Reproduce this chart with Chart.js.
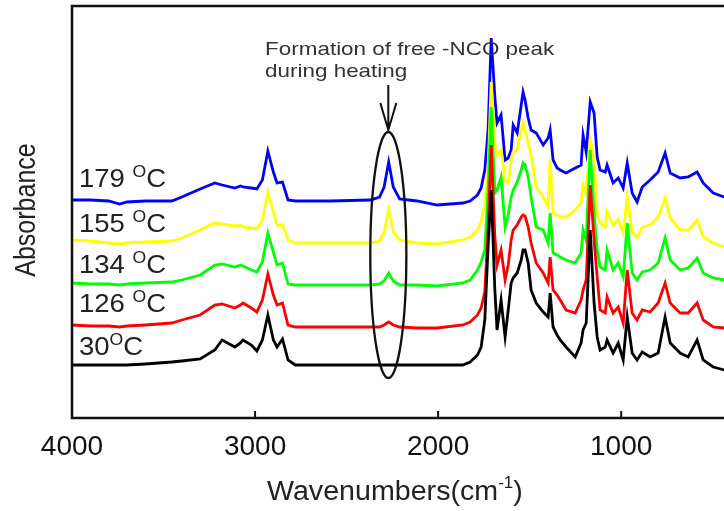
<!DOCTYPE html>
<html>
<head>
<meta charset="utf-8">
<script src="https://cdn.jsdelivr.net/npm/chart.js@4.4.1/dist/chart.umd.min.js"></script>
<style>
  html, body { margin: 0; padding: 0; background: #fff; overflow: hidden; }
  #wrap { width: 724px; height: 511px; overflow: hidden; }
  canvas { display: block; }
</style>
</head>
<body>
<div id="wrap"><canvas id="ftir" width="760" height="511"></canvas></div>
<script>
// wavenumbers (cm-1)
const wavenumbers = [
  4000, 3900, 3800, 3740, 3700, 3600, 3455, 3400, 3300, 3220,
  3180, 3110, 3080, 3066, 3020, 2990, 2960, 2930, 2900, 2880,
  2850, 2820, 2780, 2590, 2370, 2320, 2295, 2270, 2245, 2210,
  2115, 2005,
  1865, 1825, 1785, 1765, 1745, 1727, 1710, 1690, 1678, 1656,
  1634, 1617, 1601, 1590, 1568, 1546, 1536, 1525, 1508, 1492,
  1464, 1426, 1399, 1388, 1372, 1350, 1333, 1301, 1251, 1219,
  1208, 1191, 1169, 1148, 1131, 1115, 1087, 1077, 1044, 1016,
  989, 967, 940, 913, 885, 842, 798, 760, 732, 678,
  634, 585, 552, 497, 437, 400
];

// absorbance (offset traces, arbitrary units)
const abs30 = [
  0.53, 0.53, 0.53, 0.53, 0.53, 0.54, 0.56, 0.57, 0.59, 0.68,
  0.78, 0.71, 0.75, 0.78, 0.73, 0.67, 0.78, 1.03, 0.78, 0.71,
  0.79, 0.58, 0.53, 0.53, 0.53, 0.53, 0.53, 0.53, 0.53, 0.53,
  0.53, 0.53,
  0.53, 0.56, 0.63, 0.71, 0.98, 1.71, 2.28, 1.28, 0.88, 1.18,
  0.81, 1.08, 1.35, 1.40, 1.45, 1.58, 1.68, 1.68, 1.55, 1.28,
  1.15, 1.06, 1.01, 1.25, 0.91, 0.83, 0.78, 0.71, 0.61, 0.75,
  0.88, 0.95, 1.88, 1.15, 0.81, 0.68, 0.71, 0.78, 0.65, 0.75,
  0.58, 1.01, 0.65, 0.58, 0.66, 0.61, 0.65, 1.01, 0.75, 0.65,
  0.61, 0.78, 0.58, 0.51, 0.48, 0.47
];
const abs126 = [
  0.93, 0.92, 0.92, 0.91, 0.92, 0.93, 0.95, 0.98, 1.03, 1.13,
  1.14, 1.10, 1.13, 1.15, 1.10, 1.06, 1.18, 1.44, 1.23, 1.13,
  1.15, 0.93, 0.91, 0.91, 0.91, 0.91, 0.93, 0.96, 0.93, 0.91,
  0.90, 0.90,
  0.93, 0.96, 1.03, 1.10, 1.26, 1.88, 2.73, 1.81, 1.53, 1.68,
  1.38, 1.53, 1.78, 1.88, 1.93, 2.01, 2.03, 2.02, 1.91, 1.75,
  1.55, 1.45, 1.35, 1.61, 1.28, 1.23, 1.18, 1.08, 1.05, 1.18,
  1.28, 1.38, 2.33, 1.78, 1.41, 1.08, 1.05, 1.21, 1.05, 1.11,
  0.95, 1.48, 1.05, 0.98, 1.08, 1.06, 1.15, 1.35, 1.15, 1.05,
  1.05, 1.15, 0.98, 0.91, 0.90, 0.89
];
const abs134 = [
  1.35, 1.34, 1.34, 1.33, 1.34, 1.35, 1.36, 1.38, 1.43, 1.53,
  1.54, 1.51, 1.53, 1.52, 1.48, 1.46, 1.56, 1.85, 1.66, 1.53,
  1.55, 1.34, 1.33, 1.33, 1.33, 1.34, 1.37, 1.45, 1.37, 1.33,
  1.33, 1.32,
  1.35, 1.38, 1.48, 1.56, 1.68, 2.28, 3.11, 2.25, 2.28, 2.41,
  1.91, 2.03, 2.21, 2.28, 2.36, 2.48, 2.55, 2.53, 2.41, 2.21,
  1.91, 1.88, 1.75, 2.05, 1.65, 1.63, 1.61, 1.58, 1.55, 1.65,
  1.88, 1.78, 2.68, 2.05, 1.68, 1.51, 1.48, 1.68, 1.48, 1.55,
  1.41, 1.95, 1.45, 1.38, 1.46, 1.48, 1.55, 1.80, 1.58, 1.48,
  1.50, 1.60, 1.45, 1.40, 1.38, 1.37
];
const abs155 = [
  1.78, 1.77, 1.75, 1.74, 1.75, 1.76, 1.77, 1.80, 1.88, 1.95,
  1.94, 1.92, 1.93, 1.91, 1.90, 1.89, 1.98, 2.26, 2.06, 1.93,
  1.93, 1.78, 1.75, 1.75, 1.75, 1.77, 1.86, 2.08, 1.86, 1.78,
  1.75, 1.74,
  1.78, 1.81, 1.88, 1.96, 2.13, 2.48, 3.36, 2.75, 2.63, 2.68,
  2.38, 2.35, 2.58, 2.66, 2.68, 2.88, 2.95, 2.88, 2.75, 2.63,
  2.31, 2.21, 2.11, 2.58, 2.05, 2.03, 2.01, 2.01, 2.08, 2.15,
  2.33, 2.25, 2.78, 2.58, 2.05, 1.95, 1.91, 2.06, 1.93, 1.98,
  1.85, 2.21, 1.86, 1.80, 1.91, 1.93, 2.01, 2.20, 2.00, 1.88,
  1.88, 1.98, 1.81, 1.75, 1.71, 1.70
];
const abs179 = [
  2.18, 2.18, 2.17, 2.14, 2.16, 2.17, 2.17, 2.21, 2.29, 2.35,
  2.33, 2.30, 2.32, 2.31, 2.30, 2.29, 2.38, 2.67, 2.46, 2.35,
  2.36, 2.18, 2.17, 2.17, 2.18, 2.21, 2.31, 2.56, 2.31, 2.19,
  2.17, 2.13,
  2.15, 2.17, 2.23, 2.30, 2.48, 2.88, 3.80, 3.21, 2.95, 3.03,
  2.58, 2.60, 2.68, 2.93, 2.85, 3.13, 3.26, 3.18, 3.00, 2.88,
  2.85, 2.73, 2.80, 2.88, 2.58, 2.50, 2.48, 2.45, 2.50, 2.53,
  2.83, 2.66, 3.16, 3.05, 2.61, 2.48, 2.46, 2.53, 2.35, 2.40,
  2.30, 2.55, 2.25, 2.16, 2.31, 2.38, 2.46, 2.65, 2.45, 2.40,
  2.41, 2.46, 2.35, 2.25, 2.21, 2.19
];

const temperatures = ["30", "126 ", "134 ", "155 ", "179 "];
const labelHeights = [0.63, 1.06, 1.45, 1.86, 2.31];
const xTicks = [4000, 3000, 2000, 1000];
const noteLines = ["Formation of free -NCO peak", "during heating"];

const series = [abs30, abs126, abs134, abs155, abs179];
const colors = ["#000000", "#ff0000", "#00ff00", "#ffff00", "#0000ff"];

const FONT = "'Liberation Sans', Arial, sans-serif";

function stretchedText(ctx, parts, x, y, sx, color) {
  ctx.save();
  ctx.translate(x, y);
  ctx.scale(sx, 1);
  ctx.fillStyle = color;
  ctx.textBaseline = "alphabetic";
  ctx.textAlign = "left";
  let cx = 0;
  parts.forEach((p) => {
    ctx.font = p.size + "px " + FONT;
    ctx.fillText(p.text, cx, -(p.rise || 0));
    cx += ctx.measureText(p.text).width;
  });
  ctx.restore();
}

const decorations = {
  id: "decorations",
  afterDraw(chart) {
    const ctx = chart.ctx;
    const area = chart.chartArea;
    const xs = chart.scales.x;
    const ys = chart.scales.y;

    // frame
    ctx.save();
    ctx.strokeStyle = "#111";
    ctx.lineWidth = 2.5;
    ctx.strokeRect(area.left, area.top, area.right - area.left, area.bottom - area.top);

    // inward ticks
    ctx.lineWidth = 2;
    xs.ticks.forEach((t) => {
      const px = xs.getPixelForValue(t.value);
      ctx.beginPath();
      ctx.moveTo(px, area.bottom);
      ctx.lineTo(px, area.bottom - 7);
      ctx.stroke();
    });

    // NCO ellipse and arrow
    const cx = xs.getPixelForValue(2272);
    const top = ys.getPixelForValue(2.86);
    const bottom = ys.getPixelForValue(0.40);
    const rx = (xs.getPixelForValue(2175) - xs.getPixelForValue(2372)) / 2;
    ctx.lineWidth = 2.3;
    ctx.beginPath();
    ctx.ellipse(cx, (top + bottom) / 2, rx, (bottom - top) / 2, 0, 0, Math.PI * 2);
    ctx.stroke();
    const a0 = ys.getPixelForValue(3.33);
    const a1 = ys.getPixelForValue(2.88);
    ctx.lineWidth = 2;
    ctx.beginPath();
    ctx.moveTo(cx, a0);
    ctx.lineTo(cx, a1);
    ctx.moveTo(cx - 8, a1 - 27);
    ctx.lineTo(cx, a1);
    ctx.lineTo(cx + 8, a1 - 27);
    ctx.stroke();
    ctx.restore();

    // annotation text
    const nx = xs.getPixelForValue(2945);
    stretchedText(ctx, [{ text: noteLines[0], size: 19 }], nx, ys.getPixelForValue(3.63), 1.18, "#333");
    stretchedText(ctx, [{ text: noteLines[1], size: 19 }], nx, ys.getPixelForValue(3.41), 1.18, "#333");

    // temperature labels
    const lx = xs.getPixelForValue(3962);
    temperatures.forEach((t, i) => {
      stretchedText(ctx, [
        { text: t, size: 25 },
        { text: "O", size: 16, rise: 10 },
        { text: "C", size: 25 }
      ], lx, ys.getPixelForValue(labelHeights[i]), 1.1, "#222");
    });

    // x title with superscript
    stretchedText(ctx, [
      { text: "Wavenumbers(cm", size: 27 },
      { text: "-1", size: 16, rise: 12 },
      { text: ")", size: 27 }
    ], 267, 500, 1.06, "#222");

    // y title
    ctx.save();
    ctx.translate(35, 210);
    ctx.scale(1.15, 1);
    ctx.rotate(-Math.PI / 2);
    ctx.fillStyle = "#222";
    ctx.font = "25px " + FONT;
    ctx.textAlign = "center";
    ctx.textBaseline = "alphabetic";
    ctx.fillText("Absorbance", 0, 0);
    ctx.restore();
  }
};

const datasets = series.map((values, i) => ({
  label: temperatures[i].trim() + " °C",
  data: wavenumbers.map((w, j) => ({ x: w, y: values[j] })),
  borderColor: colors[i],
  borderWidth: 2.8,
  pointRadius: 0,
  tension: 0,
  fill: false
}));

new Chart(document.getElementById("ftir"), {
  type: "line",
  data: { datasets: datasets },
  options: {
    responsive: false,
    animation: false,
    devicePixelRatio: 1,
    layout: { padding: { left: 72, top: 6, right: 29, bottom: 0 } },
    plugins: { legend: { display: false }, tooltip: { enabled: false } },
    scales: {
      x: {
        type: "linear",
        min: 400,
        max: 4000,
        reverse: true,
        grid: { display: false, drawTicks: false },
        border: { display: false },
        afterBuildTicks: (scale) => {
          scale.ticks = xTicks.map((v) => ({ value: v }));
        },
        afterFit: (scale) => {
          scale.height = 93;
        },
        ticks: {
          autoSkip: false,
          maxRotation: 0,
          padding: 12,
          color: "#111",
          font: { family: FONT, size: 28 },
          callback: (v) => String(v)
        }
      },
      y: {
        display: false,
        min: 0,
        max: 4.12
      }
    }
  },
  plugins: [decorations]
});
</script>
</body>
</html>
